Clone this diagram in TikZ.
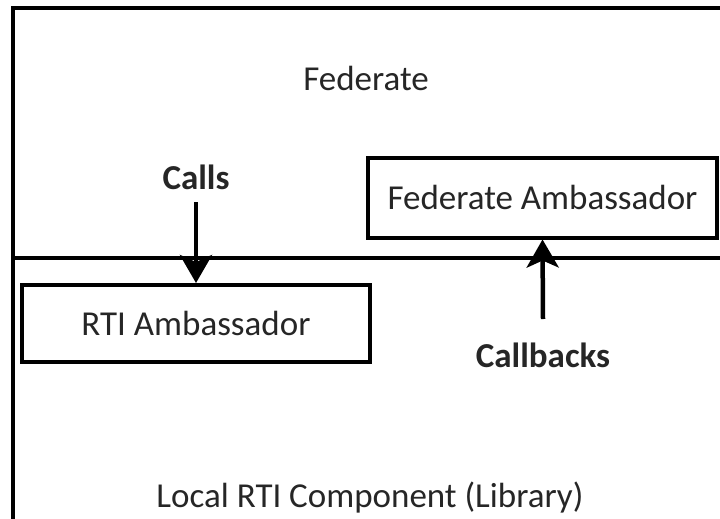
\documentclass[tikz,border=0pt]{standalone}
\usepackage{fontspec}
\setmainfont{Carlito}
\usepackage{tikz}
\usetikzlibrary{arrows.meta, positioning}

\begin{document}
\begin{tikzpicture}[x=1pt, y=-1pt, >={Stealth[length=28pt,width=32pt,inset=7pt]}, font=\fontsize{35}{41}\selectfont]
\tikzstyle{box}=[draw=black, line width=4pt, fill=white, inner sep=0pt]
\tikzstyle{lbl}=[text=black!85, inner sep=0pt]
\tikzstyle{arr}=[->, line width=4.5pt]
\useasboundingbox (0,0) rectangle (720,519);
% frame and divider
\draw[line width=4pt] (13,519) |- (720,8);
\draw[line width=3.5pt] (13,258) -- (720,258);
% nodes
\node[lbl]  (fed)      at (366,78)     {Federate};
\node[box, minimum width=349pt, minimum height=80pt] (fedamb) at (542.5,197.5) {\textcolor{black!85}{Federate Ambassador}};
\node[box, minimum width=348pt, minimum height=77pt] (rtiamb) at (196,323.5) {\textcolor{black!85}{RTI Ambassador}};
\node[lbl]  (lrc)      at (370,498)    {Local RTI Component (Library)};
\node[lbl, font=\fontsize{35}{41}\selectfont\bfseries] (calls)     at (196,177) {Calls};
\node[lbl, font=\fontsize{35}{41}\selectfont\bfseries] (callbacks) at (543,355) {Callbacks};
\coordinate (callsfrom) at (196,202);
\coordinate (cbfrom)    at (543,319);
% arrows
\draw[arr] (callsfrom) -- (rtiamb.north);
\draw[arr] (cbfrom) -- (fedamb.south);
\end{tikzpicture}
\end{document}
